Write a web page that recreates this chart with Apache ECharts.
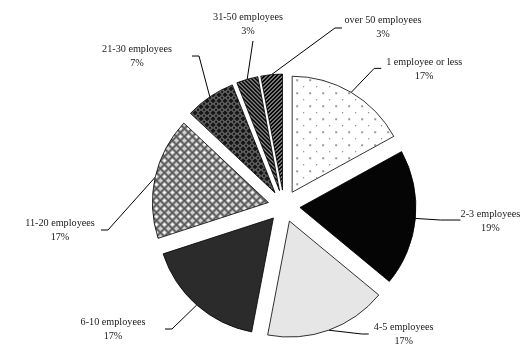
<!DOCTYPE html>
<html>
<head>
<meta charset="utf-8">
<script src="https://cdn.jsdelivr.net/npm/echarts@6/dist/echarts.min.js"></script>
<style>
  html, body { margin: 0; padding: 0; background: #fff; }
  #chart { width: 523px; height: 347px; }
</style>
</head>
<body>
<div id="chart"></div>
<script>
// Firm size distribution (share of firms, %)
const categories = [
  '1 employee or less', '2-3 employees', '4-5 employees', '6-10 employees',
  '11-20 employees', '21-30 employees', '31-50 employees', 'over 50 employees'
];
const shares = [17, 19, 17, 17, 17, 7, 3, 3];

// Pie geometry
const CX = 284, CY = 206, R = 116, OFFSET = 16;

// Leader line shape for each label: elbow offset from the arc point,
// horizontal run, and text anchor offset from the line end.
const leaderElbow = [[23, -24], [25, 1.6], [33, 3.8], [-24.7, 24], [-47.2, 52.8], [-10.8, -40.8], [5.8, -38.3], [63.4, -46.6]];
const leaderRun = [7, 20, 7, -7, -7, -7, 0, 7];
const textOffset = [[43, 1], [30, 1.5], [35, 0], [-52, 0], [-41, 0], [-55, 0], [-5, -16.5], [41, -1]];

// Fill patterns
function tile(w, h, draw) {
  const c = document.createElement('canvas');
  c.width = w; c.height = h;
  draw(c.getContext('2d'), w, h);
  return c;
}
const dots = tile(13, 13, g => {
  g.fillStyle = '#fff'; g.fillRect(0, 0, 13, 13);
  g.fillStyle = '#9a9a9a'; g.fillRect(2, 2, 2, 2);
  g.fillStyle = '#555'; g.fillRect(9, 9, 1, 1);
});
const rings = tile(8, 8, g => {
  g.fillStyle = '#d4d4d4'; g.fillRect(0, 0, 8, 8);
  g.strokeStyle = '#3c3c3c'; g.lineWidth = 1;
  [[4, 4], [0, 0], [8, 0], [0, 8], [8, 8]].forEach(p => {
    g.beginPath(); g.arc(p[0], p[1], 3.3, 0, Math.PI * 2); g.stroke();
  });
  g.fillStyle = '#fff';
  g.fillRect(3, 3, 2, 2);
});
const darkLattice = tile(6, 6, g => {
  g.fillStyle = '#151515'; g.fillRect(0, 0, 6, 6);
  g.strokeStyle = '#a8a8a8'; g.lineWidth = 1;
  g.beginPath(); g.moveTo(3, 0.5); g.lineTo(5.5, 3); g.lineTo(3, 5.5); g.lineTo(0.5, 3); g.closePath(); g.stroke();
});
function stripes(dir) {
  return tile(4, 4, g => {
    g.fillStyle = '#000'; g.fillRect(0, 0, 4, 4);
    g.fillStyle = '#fff';
    for (let k = 0; k < 4; k++) {
      g.fillRect(dir > 0 ? k : 3 - k, k, 1, 1);
    }
  });
}
const fills = [
  { image: dots, repeat: 'repeat' },
  '#050505',
  '#e6e6e6',
  '#2b2b2b',
  { image: rings, repeat: 'repeat' },
  { image: darkLattice, repeat: 'repeat' },
  { image: stripes(1), repeat: 'repeat' },
  { image: stripes(-1), repeat: 'repeat' }
];

const total = shares.reduce((a, b) => a + b, 0);
const cumulative = shares.map((v, i) => shares.slice(0, i).reduce((a, b) => a + b, 0));

function placeLabel(params) {
  const i = params.dataIndex;
  const mid = (cumulative[i] + shares[i] / 2) / total * Math.PI * 2;
  const p0 = [CX + (R + OFFSET) * Math.sin(mid), CY - (R + OFFSET) * Math.cos(mid)];
  const elbow = [p0[0] + leaderElbow[i][0], p0[1] + leaderElbow[i][1]];
  const end = [elbow[0] + leaderRun[i], elbow[1]];
  return {
    x: end[0] + textOffset[i][0],
    y: end[1] + textOffset[i][1],
    align: 'center',
    verticalAlign: 'middle',
    labelLinePoints: [p0, elbow, end]
  };
}

const chart = echarts.init(document.getElementById('chart'), null, { renderer: 'canvas' });
chart.setOption({
  animation: false,
  backgroundColor: '#fff',
  series: [
    {
      // exploded slices
      type: 'pie',
      center: [CX, CY],
      radius: R,
      startAngle: 90,
      clockwise: true,
      selectedMode: 'multiple',
      selectedOffset: OFFSET,
      silent: true,
      emphasis: { disabled: true },
      itemStyle: { borderColor: '#000', borderWidth: 0.8 },
      label: { show: false },
      labelLine: { show: false },
      data: categories.map((name, i) => ({
        name: name,
        value: shares[i],
        selected: true,
        itemStyle: { color: fills[i] }
      }))
    },
    {
      // category labels with leader lines
      type: 'pie',
      center: [CX, CY],
      radius: R,
      startAngle: 90,
      clockwise: true,
      silent: true,
      avoidLabelOverlap: false,
      emphasis: { disabled: true },
      itemStyle: { color: 'rgba(0,0,0,0)', borderWidth: 0 },
      label: {
        show: true,
        position: 'outside',
        formatter: '{b}\n{c}%',
        fontFamily: 'Liberation Serif',
        fontSize: 10.2,
        lineHeight: 14,
        color: '#1a1a1a',
        align: 'center'
      },
      labelLine: { show: true, lineStyle: { color: '#000', width: 1 } },
      labelLayout: placeLabel,
      data: categories.map((name, i) => ({ name: name, value: shares[i] }))
    }
  ]
});
</script>
</body>
</html>
